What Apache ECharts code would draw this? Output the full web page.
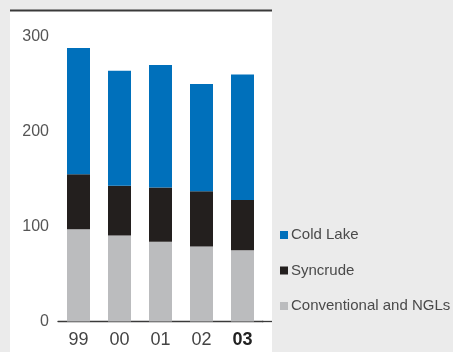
<!DOCTYPE html>
<html>
<head>
<meta charset="utf-8">
<script src="https://cdn.jsdelivr.net/npm/echarts@6/dist/echarts.min.js"></script>
<style>
  html, body { margin: 0; padding: 0; background: #ebebeb; }
  #chart { width: 453px; height: 352px; }
</style>
</head>
<body>
<div id="chart"></div>
<script>
// Production volumes by year (thousand barrels per day)
const years = ['99', '00', '01', '02', '03'];
const conventional = [97, 90.5, 84, 79, 75];
const syncrude = [58, 52.5, 57, 58, 53];
const coldLake = [133, 121, 129, 113, 132];
const yTicks = [0, 100, 200, 300];

const FONT = '"Liberation Sans", Arial, sans-serif';
const chart = echarts.init(document.getElementById('chart'), null, { renderer: 'canvas' });

chart.setOption({
  backgroundColor: '#ebebeb',
  animation: false,
  graphic: [
    // white panel behind the plot
    { type: 'rect', z: -10, shape: { x: 10, y: 11, width: 262, height: 341 }, style: { fill: '#ffffff' } },
    // heavy rule along the top of the panel
    { type: 'line', shape: { x1: 10, y1: 10.5, x2: 272, y2: 10.5 }, style: { stroke: '#3a3a3a', lineWidth: 2 } },
    // baseline continues to the panel edge
    { type: 'line', shape: { x1: 262, y1: 321.5, x2: 272, y2: 321.5 }, style: { stroke: '#3a3a3a', lineWidth: 1.3 } }
  ],
  grid: { left: 58, right: 190, top: 36.5, bottom: 30.5, containLabel: false },
  legend: {
    orient: 'vertical',
    left: 275,
    top: 221,
    itemWidth: 8,
    itemHeight: 8,
    itemGap: 17.5,
    icon: 'rect',
    data: ['Cold Lake', 'Syncrude', 'Conventional and NGLs'],
    textStyle: { fontFamily: FONT, fontSize: 15, color: '#4a4a4a', lineHeight: 18, padding: [0, 0, 0, -2] }
  },
  xAxis: {
    type: 'category',
    data: years,
    axisLine: { lineStyle: { color: '#3a3a3a', width: 1.3 } },
    axisTick: { show: false },
    axisLabel: {
      interval: 0,
      margin: 10,
      fontFamily: FONT,
      fontSize: 18,
      color: '#444',
      formatter: (v) => v === '03' ? '{b|' + v + '}' : v,
      rich: { b: { fontFamily: FONT, fontSize: 18, fontWeight: 'bold', color: '#222' } }
    }
  },
  yAxis: {
    type: 'value',
    min: yTicks[0],
    max: yTicks[yTicks.length - 1],
    interval: 100,
    axisLine: { show: false },
    axisTick: { show: false },
    splitLine: { show: false },
    axisLabel: { margin: 9, fontFamily: FONT, fontSize: 16, color: '#555' }
  },
  series: [
    { name: 'Conventional and NGLs', type: 'bar', stack: 'total', barWidth: 23, data: conventional, itemStyle: { color: '#bbbcbe' } },
    { name: 'Syncrude', type: 'bar', stack: 'total', barWidth: 23, data: syncrude, itemStyle: { color: '#231f1e' } },
    { name: 'Cold Lake', type: 'bar', stack: 'total', barWidth: 23, data: coldLake, itemStyle: { color: '#0070bb' } }
  ]
});
</script>
</body>
</html>
